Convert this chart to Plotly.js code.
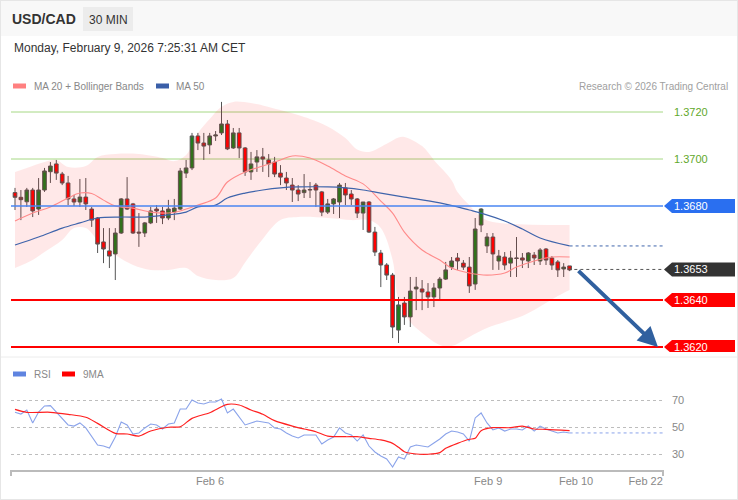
<!DOCTYPE html>
<html><head><meta charset="utf-8">
<script src="https://cdn.plot.ly/plotly-3.0.1.min.js"></script>
<style>
html,body{margin:0;padding:0;background:#fff;}
#wrap{position:relative;width:738px;height:500px;}
#chart{width:738px;height:500px;}
#border{position:absolute;left:0;top:0;width:738px;height:500px;box-sizing:border-box;border:1px solid #e6e6e6;pointer-events:none;}
</style></head>
<body><div id="wrap"><div id="chart"></div><div id="border"></div></div>
<script>
// ---------- DATA ----------
const openP = [1.36857,1.36837,1.36818,1.36868,1.36787,1.36868,1.36946,1.36979,1.36936,1.36898,
1.36830,1.36817,1.36838,1.36787,1.36749,1.36647,1.36609,1.36596,1.36685,1.36830,
1.36809,1.36689,1.36685,1.36728,1.36787,1.36779,1.36749,1.36774,1.36787,1.36940,
1.36962,1.37098,1.37068,1.37060,1.37098,1.37111,1.37149,1.37047,1.37111,1.37047,
1.36945,1.36987,1.37009,1.36996,1.36987,1.36940,1.36919,1.36889,1.36868,1.36857,
1.36868,1.36889,1.36860,1.36774,1.36809,1.36817,1.36877,1.36851,1.36830,1.36770,
1.36817,1.36689,1.36600,1.36549,1.36506,1.36272,1.36387,1.36328,1.36447,1.36447,
1.36434,1.36413,1.36451,1.36489,1.36540,1.36579,1.36557,1.36540,1.36468,1.36719,
1.36630,1.36668,1.36566,1.36583,1.36557,1.36579,1.36579,1.36566,1.36591,1.36566,
1.36617,1.36579,1.36562,1.36532,1.36545];
const highP = [1.36877,1.36868,1.36877,1.36877,1.36919,1.36962,1.36987,1.36996,1.36945,1.36928,
1.36847,1.36915,1.36919,1.36796,1.36753,1.36706,1.36706,1.36706,1.36834,1.36923,
1.36813,1.36770,1.36732,1.36796,1.36804,1.36796,1.36826,1.36830,1.36962,1.36996,
1.37111,1.37111,1.37111,1.37111,1.37119,1.37243,1.37166,1.37132,1.37132,1.37051,
1.37030,1.37038,1.37047,1.37021,1.37009,1.36974,1.36945,1.36919,1.36889,1.36936,
1.36902,1.36898,1.36864,1.36830,1.36834,1.36898,1.36898,1.36868,1.36834,1.36817,
1.36821,1.36711,1.36613,1.36557,1.36515,1.36413,1.36413,1.36498,1.36498,1.36485,
1.36472,1.36472,1.36498,1.36562,1.36583,1.36600,1.36570,1.36583,1.36749,1.36791,
1.36685,1.36685,1.36613,1.36604,1.36609,1.36668,1.36600,1.36604,1.36604,1.36621,
1.36621,1.36587,1.36570,1.36557,1.36545];
const lowP = [1.36783,1.36740,1.36796,1.36753,1.36762,1.36860,1.36898,1.36911,1.36889,1.36804,
1.36800,1.36796,1.36783,1.36711,1.36600,1.36557,1.36536,1.36485,1.36681,1.36783,
1.36681,1.36626,1.36668,1.36723,1.36728,1.36723,1.36740,1.36740,1.36783,1.36919,
1.36953,1.37038,1.36996,1.37021,1.37077,1.37102,1.37038,1.37043,1.37004,1.36928,
1.36911,1.36945,1.36945,1.36923,1.36923,1.36889,1.36868,1.36817,1.36821,1.36834,
1.36834,1.36796,1.36757,1.36766,1.36766,1.36749,1.36804,1.36804,1.36749,1.36698,
1.36685,1.36587,1.36455,1.36485,1.36238,1.36217,1.36294,1.36285,1.36357,1.36357,
1.36366,1.36370,1.36400,1.36485,1.36528,1.36528,1.36528,1.36430,1.36443,1.36689,
1.36600,1.36528,1.36528,1.36528,1.36498,1.36498,1.36536,1.36536,1.36549,1.36549,
1.36549,1.36528,1.36498,1.36498,1.36523];
const closeP = [1.36837,1.36827,1.36868,1.36779,1.36868,1.36949,1.36970,1.36940,1.36898,1.36830,
1.36817,1.36838,1.36809,1.36740,1.36638,1.36617,1.36587,1.36685,1.36830,1.36787,
1.36685,1.36685,1.36728,1.36779,1.36779,1.36749,1.36787,1.36791,1.36949,1.36962,
1.37098,1.37068,1.37055,1.37098,1.37102,1.37149,1.37043,1.37111,1.37047,1.36945,
1.36979,1.37009,1.37000,1.36979,1.36936,1.36923,1.36898,1.36868,1.36851,1.36868,
1.36870,1.36868,1.36774,1.36809,1.36830,1.36889,1.36847,1.36830,1.36770,1.36817,
1.36689,1.36604,1.36549,1.36506,1.36285,1.36379,1.36328,1.36438,1.36455,1.36434,
1.36413,1.36451,1.36489,1.36528,1.36566,1.36566,1.36540,1.36460,1.36702,1.36787,
1.36668,1.36596,1.36587,1.36549,1.36579,1.36577,1.36570,1.36600,1.36579,1.36613,
1.36570,1.36549,1.36528,1.36540,1.36528];

const ma20Idx = [0,3,6,9,11,13,15,17,20,23,26,28,31,34,36,39,42,45,47,50,53,56,59,62,64,66,69,72,74,77,80,83,85,88,91,94];
const ma20Val = [1.36736,1.36770,1.36796,1.36834,1.36855,1.36853,1.36825,1.36800,1.36791,1.36774,1.36770,1.36779,1.36804,1.36834,1.36902,1.36945,1.36970,1.36996,1.37013,1.37004,1.36970,1.36928,1.36894,1.36821,1.36770,1.36689,1.36613,1.36570,1.36536,1.36515,1.36506,1.36515,1.36540,1.36566,1.36583,1.36583];

const ma50Idx = [0,4,8,11,14,18,22,26,29,31,34,36,39,42,45,48,53,56,59,62,66,72,77,79,83,86,89,94];
const ma50Val = [1.36634,1.36668,1.36706,1.36728,1.36749,1.36753,1.36753,1.36762,1.36774,1.36796,1.36804,1.36834,1.36855,1.36868,1.36877,1.36881,1.36881,1.36877,1.36868,1.36855,1.36838,1.36813,1.36783,1.36770,1.36736,1.36702,1.36664,1.36630];

const bbUpIdx = [0,2,5,7,9,12,14,17,21,25,27,29,31,33,35,37,40,42,45,48,50,53,56,58,60,63,65,66,69,71,74,75,77,79,81,94];
const bbUpVal = [1.36945,1.36962,1.36987,1.36996,1.36966,1.36970,1.37009,1.37021,1.37021,1.37004,1.36991,1.37017,1.37110,1.37170,1.37222,1.37243,1.37238,1.37228,1.37208,1.37187,1.37170,1.37138,1.37089,1.37040,1.37030,1.37065,1.37092,1.37094,1.37055,1.36996,1.36910,1.36860,1.36804,1.36753,1.36732,1.36719];

const bbLoIdx = [0,3,5,8,10,12,14,17,20,23,26,29,31,34,37,39,42,45,48,53,57,60,62,64,65,67,69,72,74,77,80,83,86,88,90,92,94];
const bbLoVal = [1.36536,1.36570,1.36604,1.36655,1.36706,1.36706,1.36655,1.36591,1.36549,1.36528,1.36528,1.36536,1.36502,1.36485,1.36494,1.36560,1.36660,1.36740,1.36753,1.36749,1.36740,1.36740,1.36706,1.36570,1.36400,1.36306,1.36260,1.36209,1.36204,1.36243,1.36281,1.36306,1.36332,1.36357,1.36387,1.36417,1.36443];

const rsiVals = [60.9,59.6,62.6,53.0,61.1,65.6,65.8,61.1,56.0,51.5,
50.7,53.0,49.3,42.6,36.7,35.9,34.4,42.6,53.7,51.5,
44.8,45.6,49.3,52.2,51.5,48.5,52.2,53.0,63.3,63.3,
70.0,67.8,67.0,68.5,68.5,70.7,60.4,63.3,57.4,51.5,
53.0,54.4,53.7,53.0,49.3,48.5,45.6,43.3,41.9,44.1,
44.1,44.1,37.4,40.4,42.6,49.3,45.6,44.1,39.6,44.1,
35.9,31.5,28.5,26.3,20.4,27.8,26.3,35.2,36.7,35.9,
35.2,38.1,41.1,44.8,47.0,46.3,44.8,39.6,56.7,60.4,
53.0,47.8,49.3,47.0,48.5,48.5,47.8,50.7,47.0,50.7,
48.5,47.0,45.6,46.3,45.6];

const rsiMaIdx = [0,2,6,9,12,14,17,19,21,23,26,28,30,33,35,36,38,40,42,44,47,49,51,53,56,58,60,62,64,65,66,68,70,72,73,75,77,78,79,81,84,86,88,90,94];
const rsiMaVal = [63.1,60.9,60.9,59.4,57.2,52.7,45.3,44.8,43.3,47.0,49.8,50.2,56.4,60.6,65.0,66.8,66.3,62.6,59.4,54.7,50.7,48.5,46.5,43.3,42.8,42.8,41.6,40.4,37.9,35.0,31.7,30.0,29.8,31.0,34.2,37.9,40.9,41.6,47.3,49.5,49.5,50.7,48.5,48.3,47.3];

const resistLevels = [1.3720, 1.3700];
const pivotLevel = 1.3680;
const lastPrice = 1.3653;
const supportLevels = [1.3640, 1.3620];
const targetLevel = 1.3620;
const rsiLevels = [30, 50, 70];
const tickPos = [33.05, 80.2, 95.1, 106.9];
const tickText = ['Feb 6', 'Feb 9', 'Feb 10', 'Feb 22'];

// ---------- LAYOUT HELPERS ----------
const FONT = 'Liberation Sans, Arial, Helvetica, sans-serif';
const PW = 652;
const px = v => (v - 11) / PW;
const py = v => (500 - v) / 500;
const xIdx = openP.map((_, i) => i);
const lastI = xIdx[xIdx.length - 1];
const xMax = 109.83;

const traces = [
  {x: bbLoIdx, y: bbLoVal, type: 'scatter', mode: 'lines', line: {width: 0, shape: 'spline', smoothing: 1}, hoverinfo: 'skip'},
  {x: bbUpIdx, y: bbUpVal, type: 'scatter', mode: 'lines', line: {width: 0, shape: 'spline', smoothing: 1}, fill: 'tonexty', fillcolor: 'rgba(255,0,0,0.09)', hoverinfo: 'skip'},
  {x: ma20Idx, y: ma20Val, type: 'scatter', mode: 'lines', line: {color: '#ff8a8a', width: 1.1, shape: 'spline', smoothing: 1}},
  {x: ma50Idx, y: ma50Val, type: 'scatter', mode: 'lines', line: {color: '#3f64ab', width: 1.2, shape: 'spline', smoothing: 1}},
  {x: xIdx, open: openP, high: highP, low: lowP, close: closeP, type: 'candlestick', whiskerwidth: 0,
   increasing: {fillcolor: '#1e7d1e', line: {color: '#555555', width: 1}},
   decreasing: {fillcolor: '#ff0000', line: {color: '#555555', width: 1}}},
  {x: xIdx, y: rsiVals, xaxis: 'x', yaxis: 'y2', type: 'scatter', mode: 'lines', line: {color: '#8aa3ea', width: 1.1}},
  {x: rsiMaIdx, y: rsiMaVal, xaxis: 'x', yaxis: 'y2', type: 'scatter', mode: 'lines', line: {color: '#ff2020', width: 1.2, shape: 'spline', smoothing: 0.8}}
];

const shapes = [
  {type: 'rect', xref: 'paper', yref: 'paper', x0: px(0), x1: px(738), y0: py(36), y1: py(0), fillcolor: '#f8f8f8', line: {width: 0}, layer: 'below'},
  {type: 'rect', xref: 'paper', yref: 'paper', x0: px(83), x1: px(133), y0: py(31), y1: py(7), fillcolor: '#ececec', line: {width: 0}, layer: 'below'},
  {type: 'rect', xref: 'paper', yref: 'paper', x0: px(13), x1: px(26), y0: py(88.5), y1: py(83.5), fillcolor: '#ff8080', line: {width: 0}},
  {type: 'rect', xref: 'paper', yref: 'paper', x0: px(156), x1: px(169), y0: py(88.5), y1: py(83.5), fillcolor: '#3a5fa8', line: {width: 0}},
  {type: 'rect', xref: 'paper', yref: 'paper', x0: px(13), x1: px(26), y0: py(376.5), y1: py(371.5), fillcolor: '#5f84e0', line: {width: 0}},
  {type: 'rect', xref: 'paper', yref: 'paper', x0: px(62), x1: px(75), y0: py(376.5), y1: py(371.5), fillcolor: '#ff0000', line: {width: 0}},
  {type: 'line', xref: 'paper', yref: 'paper', x0: px(1), x1: px(737), y0: py(357), y1: py(357), line: {color: '#ececec', width: 1}},
  {type: 'line', xref: 'paper', yref: 'paper', x0: 0, x1: 0, y0: py(470), y1: py(476), line: {color: '#bbbbbb', width: 2}},
  {type: 'line', xref: 'paper', yref: 'paper', x0: 1, x1: 1, y0: py(470), y1: py(476), line: {color: '#bbbbbb', width: 2}},
  // dotted continuations
  {type: 'line', xref: 'x', yref: 'y', x0: lastI + 0.8, x1: xMax, y0: lastPrice, y1: lastPrice, line: {color: '#555', width: 1, dash: 'dot'}},
  {type: 'line', xref: 'x', yref: 'y', x0: lastI, x1: xMax, y0: ma50Val[ma50Val.length - 1], y1: ma50Val[ma50Val.length - 1], line: {color: '#3f64ab', width: 1, dash: 'dot'}},
  {type: 'line', xref: 'x', yref: 'y2', x0: lastI, x1: xMax, y0: rsiVals[rsiVals.length - 1], y1: rsiVals[rsiVals.length - 1], line: {color: '#8aa3ea', width: 1, dash: 'dot'}}
];
resistLevels.forEach(v => shapes.push({type: 'line', xref: 'paper', yref: 'y', x0: 0, x1: 1, y0: v, y1: v, line: {color: '#a6d884', width: 1}, layer: 'below'}));
shapes.push({type: 'line', xref: 'paper', yref: 'y', x0: 0, x1: 1, y0: pivotLevel, y1: pivotLevel, line: {color: '#4a86f2', width: 1.5}, layer: 'above'});
supportLevels.forEach(v => shapes.push({type: 'line', xref: 'paper', yref: 'y', x0: 0, x1: 1, y0: v, y1: v, line: {color: '#ff0000', width: 2}, layer: 'above'}));

const H = 7 / 23500;
function tag(v, color) {
  shapes.push({type: 'path', xref: 'paper', yref: 'y', layer: 'above',
    path: `M ${px(664)},${v} L ${px(672)},${v + H} L ${px(735)},${v + H} L ${px(735)},${v - H} L ${px(672)},${v - H} Z`,
    fillcolor: color, line: {width: 0}});
}
tag(pivotLevel, '#2a6ff0');
tag(lastPrice, '#333333');
supportLevels.forEach(v => tag(v, '#ff0000'));

const ann = [];
function txt(text, x, y, opts) {
  ann.push(Object.assign({text: text, xref: 'paper', yref: 'paper', x: x, y: y, xanchor: 'left', yanchor: 'middle', showarrow: false,
    font: {family: FONT, size: 10, color: '#888'}}, opts || {}));
}
txt('<b>USD/CAD</b>', px(10), py(19), {font: {family: FONT, size: 14, color: '#333'}});
txt('30 MIN', px(108), py(19.5), {xanchor: 'center', font: {family: FONT, size: 12, color: '#333'}});
txt('Monday, February 9, 2026 7:25:31 AM CET', px(12), py(48.5), {font: {family: FONT, size: 12, color: '#333'}});
txt('MA 20 + Bollinger Bands', px(32), py(86.5));
txt('MA 50', px(174), py(86.5));
txt('Research © 2026 Trading Central', px(730), py(86.5), {xanchor: 'right', font: {family: FONT, size: 10, color: '#a0a0a0'}});
txt('RSI', px(32), py(374.5));
txt('9MA', px(81), py(374.5));
resistLevels.forEach(v => ann.push({text: v.toFixed(4), xref: 'paper', yref: 'y', x: px(672), y: v, xanchor: 'left', yanchor: 'middle', showarrow: false, font: {family: FONT, size: 11, color: '#5fa82b'}}));
[pivotLevel, lastPrice].concat(supportLevels).forEach(v => ann.push({text: v.toFixed(4), xref: 'paper', yref: 'y', x: px(672), y: v, xanchor: 'left', yanchor: 'middle', showarrow: false, font: {family: FONT, size: 11, color: '#ffffff'}}));
ann.push({x: 108.98, y: targetLevel, xref: 'x', yref: 'y', ax: lastI + 1.25, ay: lastPrice, axref: 'x', ayref: 'y', text: '', showarrow: true,
  arrowhead: 2, arrowsize: 1, arrowwidth: 4, arrowcolor: '#30609f', standoff: 0, startstandoff: 0});

const layout = {
  width: 738, height: 500,
  margin: {l: 11, r: 75, t: 0, b: 0},
  paper_bgcolor: '#ffffff', plot_bgcolor: 'rgba(0,0,0,0)',
  showlegend: false, hovermode: false,
  boxgap: 0.12,
  font: {family: FONT, size: 11, color: '#888'},
  xaxis: {range: [-0.678, xMax], anchor: 'y2', showgrid: false, zeroline: false, showline: true, linecolor: '#bbbbbb', linewidth: 2,
    tickmode: 'array', tickvals: tickPos, ticktext: tickText, ticks: '', tickfont: {family: FONT, size: 11, color: '#888'},
    rangeslider: {visible: false}, fixedrange: true},
  yaxis: {domain: [py(352), py(95)], range: [1.3680 - 146 / 23500, 1.3680 + 111 / 23500], visible: false, showgrid: false, zeroline: false, fixedrange: true},
  yaxis2: {domain: [py(470), py(378)], range: [50 - 43 / 1.35, 50 + 49 / 1.35], side: 'right', tickmode: 'array', tickvals: rsiLevels,
    showgrid: true, gridcolor: '#bdbdbd', griddash: 'dot', gridwidth: 1, zeroline: false, showline: false, ticks: '',
    ticklabelstandoff: 8, tickfont: {family: FONT, size: 11, color: '#888'}, fixedrange: true},
  shapes: shapes,
  annotations: ann
};

Plotly.newPlot('chart', traces, layout, {staticPlot: true, displayModeBar: false});
</script></body></html>
